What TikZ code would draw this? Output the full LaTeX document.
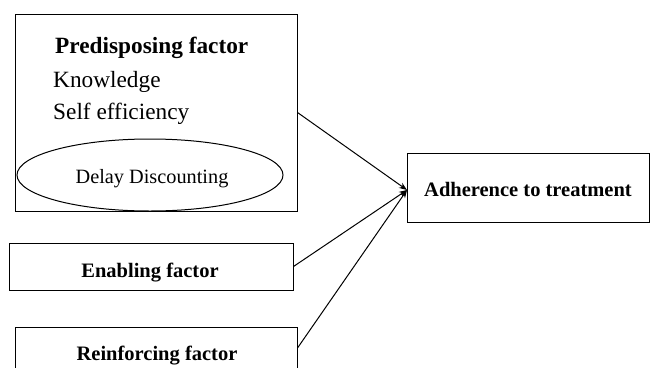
\documentclass[tikz,border=0pt]{standalone}
\usepackage{fontspec}
\setmainfont{Liberation Serif}
\usetikzlibrary{shapes.geometric,arrows.meta}
\begin{document}
\begin{tikzpicture}[x=1pt,y=-1pt,
  box/.style={draw,line width=1pt,rectangle,inner sep=0pt},
  conn/.style={line width=1pt,-{Stealth[length=8pt,width=6pt]}},
  bigbold/.style={font=\fontsize{23.3}{26}\selectfont\bfseries},
  big/.style={font=\fontsize{23.3}{26}\selectfont},
  midbold/.style={font=\fontsize{20.5}{24}\selectfont\bfseries},
  small/.style={font=\fontsize{20.3}{22}\selectfont}]
\useasboundingbox (0,0) rectangle (652,367);
% boxes
\node[box,minimum width=282pt,minimum height=197pt] (pbox) at (156,112.5) {};
\node[box,minimum width=242pt,minimum height=69pt] (adh) at (528,187.5) {};
\node[box,minimum width=284pt,minimum height=47pt] (enab) at (151,266.5) {};
\node[box,minimum width=282pt,minimum height=42pt] (rein) at (156,348) {};
% ellipse
\node[draw,line width=1pt,ellipse,minimum width=266pt,minimum height=72pt,inner sep=0pt] (ell) at (150,175) {};
% texts
\node[bigbold,anchor=base west,inner sep=0pt] (t1) at (55,53) {Predisposing factor};
\node[big,anchor=base west,inner sep=0pt] (t2) at (53,87) {Knowledge};
\node[big,anchor=base west,inner sep=0pt] (t3) at (53,119) {Self efficiency};
\node[small,anchor=base,inner sep=0pt] (t4) at (152,183) {Delay Discounting};
\node[midbold,anchor=base,inner sep=0pt] (t5) at (528,196) {Adherence to treatment};
\node[midbold,anchor=base,inner sep=0pt] (t6) at (150,277) {Enabling factor};
\node[midbold,anchor=base,inner sep=0pt] (t7) at (157,360) {Reinforcing factor};
% connectors
\coordinate (tip) at (407,190);
\draw[conn] (pbox.east) -- (tip);
\draw[conn] (enab.east) -- (tip);
\draw[conn] (rein.east) -- (tip);
\end{tikzpicture}
\end{document}
